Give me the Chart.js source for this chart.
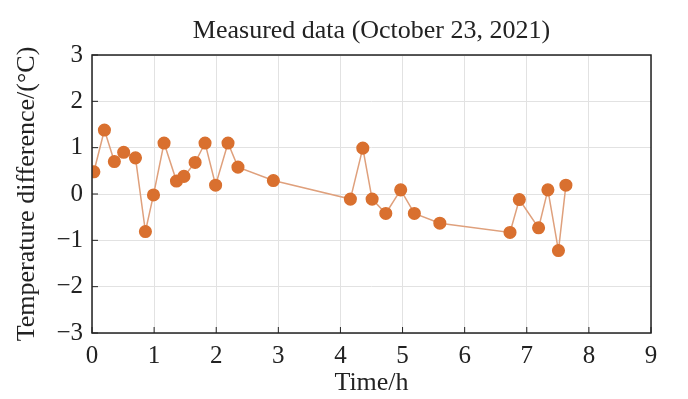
<!DOCTYPE html>
<html>
<head>
<meta charset="utf-8">
<script src="https://cdn.jsdelivr.net/npm/chart.js@4.4.0/dist/chart.umd.min.js"></script>
<style>
  html, body { margin: 0; padding: 0; background: #fff; }
  #wrap { width: 688px; height: 399px; }
</style>
</head>
<body>
<div id="wrap"><canvas id="tempChart"></canvas></div>
<script>
// data
var timeHours = [0.03, 0.20, 0.36, 0.51, 0.70, 0.86, 0.99, 1.16, 1.36, 1.48, 1.66, 1.82, 1.99, 2.19, 2.35, 2.92,
                 4.16, 4.36, 4.51, 4.73, 4.97, 5.19, 5.60, 6.73, 6.88, 7.19, 7.34, 7.51, 7.63];
var tempDiff = [0.48, 1.38, 0.70, 0.90, 0.78, -0.81, -0.02, 1.10, 0.28, 0.38, 0.68, 1.10, 0.19, 1.10, 0.58, 0.29,
                -0.11, 0.99, -0.11, -0.42, 0.09, -0.42, -0.63, -0.83, -0.12, -0.73, 0.09, -1.22, 0.19];
var xTicks = [0, 1, 2, 3, 4, 5, 6, 7, 8, 9];
var yTicks = [-3, -2, -1, 0, 1, 2, 3];
var chartTitle = 'Measured data (October 23, 2021)';

var serif = "'Liberation Serif', 'DejaVu Serif', serif";

var points = timeHours.map(function (t, i) {
    return { x: t, y: tempDiff[i] };
});

// frame, inward tick marks and a title centred over the plot area
var framePlugin = {
    id: 'frame',
    afterDraw: function (chart) {
        var ctx = chart.ctx;
        var a = chart.chartArea;
        var xs = chart.scales.x, ys = chart.scales.y;
        ctx.save();
        ctx.strokeStyle = '#222';
        ctx.lineWidth = 1.5;
        ctx.strokeRect(a.left, a.top, a.right - a.left, a.bottom - a.top);
        ctx.lineWidth = 1;
        xTicks.forEach(function (v) {
            var px = xs.getPixelForValue(v);
            ctx.beginPath();
            ctx.moveTo(px, a.bottom);
            ctx.lineTo(px, a.bottom - 6);
            ctx.stroke();
        });
        yTicks.forEach(function (v) {
            var py = ys.getPixelForValue(v);
            ctx.beginPath();
            ctx.moveTo(a.left, py);
            ctx.lineTo(a.left + 6, py);
            ctx.stroke();
        });
        ctx.fillStyle = '#222';
        ctx.font = '26px ' + serif;
        ctx.textAlign = 'center';
        ctx.textBaseline = 'middle';
        ctx.fillText(chartTitle, (a.left + a.right) / 2, a.top - 24);
        ctx.restore();
    }
};

new Chart(document.getElementById('tempChart').getContext('2d'), {
    type: 'line',
    data: {
        datasets: [{
            data: points,
            borderColor: '#dfa07c',
            borderWidth: 1.5,
            pointBackgroundColor: '#d9702f',
            pointBorderColor: '#d9702f',
            pointRadius: 5.8,
            tension: 0,
            fill: false
        }]
    },
    options: {
        responsive: true,
        maintainAspectRatio: false,
        animation: false,
        layout: { padding: { left: 0, right: 37, top: 55, bottom: 0 } },
        plugins: {
            legend: { display: false },
            tooltip: { enabled: false },
            title: { display: false }
        },
        scales: {
            x: {
                type: 'linear',
                min: 0,
                max: 9,
                afterBuildTicks: function (scale) {
                    scale.ticks = xTicks.map(function (v) { return { value: v }; });
                },
                afterFit: function (scale) { scale.height = 66; },
                grid: { color: '#e2e2e2', drawTicks: false },
                border: { display: false },
                ticks: {
                    color: '#222',
                    padding: 8,
                    font: { family: serif, size: 25 }
                },
                title: {
                    display: true,
                    text: 'Time/h',
                    color: '#222',
                    font: { family: serif, size: 26 },
                    padding: { top: 0, bottom: 0 }
                }
            },
            y: {
                min: -3,
                max: 3,
                afterBuildTicks: function (scale) {
                    scale.ticks = yTicks.map(function (v) { return { value: v }; });
                },
                afterFit: function (scale) { scale.width = 92; },
                grid: { color: '#e2e2e2', drawTicks: false },
                border: { display: false },
                ticks: {
                    color: '#222',
                    padding: 9,
                    font: { family: serif, size: 25 },
                    callback: function (v) { return String(v).replace('-', '\u2212'); }
                },
                title: {
                    display: true,
                    text: 'Temperature difference/(°C)',
                    color: '#222',
                    font: { family: serif, size: 26 },
                    padding: { top: 12, bottom: 0 }
                }
            }
        }
    },
    plugins: [framePlugin]
});
</script>
</body>
</html>
